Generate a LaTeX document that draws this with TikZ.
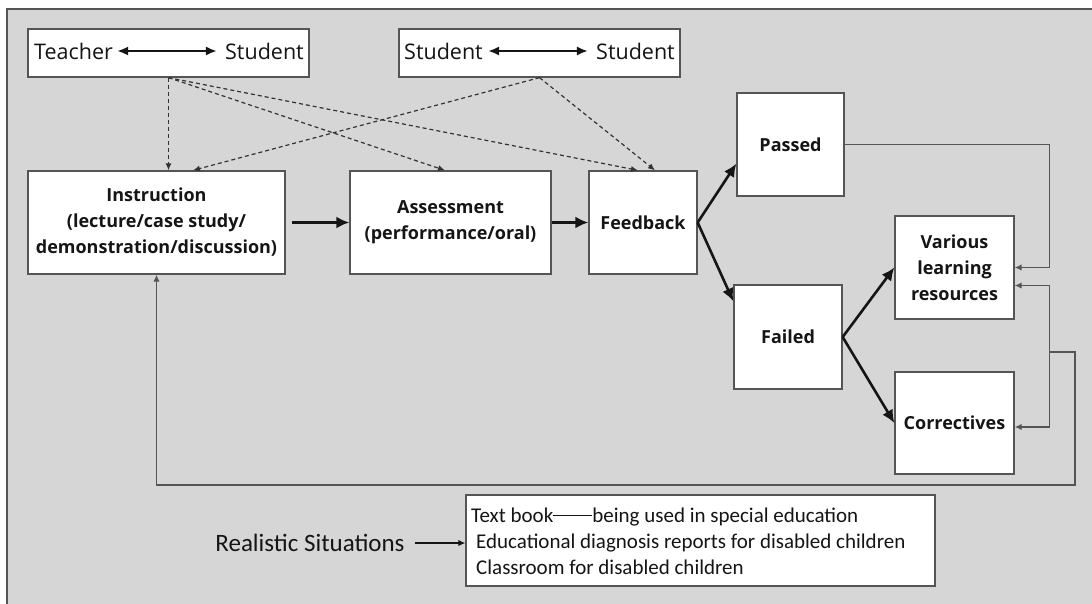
\documentclass[tikz,border=0pt]{standalone}
\usepackage{fontspec}
\setmainfont{Open Sans}
\newfontfamily\narrowfont{Carlito}
\usetikzlibrary{arrows.meta,calc}

\definecolor{panel}{HTML}{D6D6D6}
\definecolor{edge}{HTML}{555555}
\definecolor{ink}{HTML}{151515}
\definecolor{dashink}{HTML}{333333}

% a solid double dash, drawn as one rule
\newcommand{\longdash}{\rule[6.3pt]{39pt}{1.1pt}}

\tikzset{
  box/.style={draw=edge, line width=1.3pt, fill=white, inner sep=0pt,
    align=center, text=ink, font=\fontsize{18}{26}\selectfont\bfseries},
  pairtext/.style={inner sep=1pt, text=ink, font=\fontsize{21.5}{26}\selectfont},
  flow/.style={line width=2.6pt, draw=ink, -{Latex[length=13pt,width=12pt]}},
  pairarrow/.style={line width=2.3pt, draw=ink, {Latex[length=11pt,width=9pt]}-{Latex[length=11pt,width=9pt]}},
  link/.style={line width=1.4pt, draw=edge, -{Latex[length=7pt,width=6.5pt]}},
  plain/.style={line width=1.4pt, draw=edge},
  hint/.style={line width=1.2pt, draw=dashink, dash pattern=on 4pt off 3pt,
    -{Latex[length=7pt,width=6pt]}}
}

\begin{document}
\begin{tikzpicture}[x=1pt,y=-1pt]
\useasboundingbox (0,0) rectangle (1092,603);

% grey panel with its top and left rule
\fill[panel] (7,9) rectangle (1100,610);
\draw[edge, line width=1.8pt] (1100,9) -- (7,9) -- (7,610);

% interaction boxes
\node[box, minimum width=281pt, minimum height=48pt] (ts) at (168.5,53) {};
\node[pairtext, anchor=west] (tsA) at (33,51) {Teacher};
\node[pairtext, anchor=east] (tsB) at (305,51) {Student};
\draw[pairarrow] ([xshift=3pt]tsA.east) -- ([xshift=-7pt]tsB.west);

\node[box, minimum width=281pt, minimum height=48pt] (ss) at (539.5,53) {};
\node[pairtext, anchor=west] (ssA) at (403,51) {Student};
\node[pairtext, anchor=east] (ssB) at (676,51) {Student};
\draw[pairarrow] ([xshift=4pt]ssA.east) -- ([xshift=-7pt]ssB.west);

% main process
\node[box, minimum width=257pt, minimum height=103pt] (instr) at (156.5,222.5)
  {Instruction\\(lecture/case study/\\demonstration/discussion)};
\node[box, minimum width=201pt, minimum height=103pt] (assess) at (450.5,222.5)
  {Assessment\\(performance/oral)};
\node[box, minimum width=108pt, minimum height=103pt] (feed) at (643,222.5) {Feedback};
\node[box, minimum width=107pt, minimum height=103pt] (passed) at (790.5,144.5) {Passed};
\node[box, minimum width=108pt, minimum height=104pt] (failed) at (788,337) {Failed};
\node[box, minimum width=119pt, minimum height=103pt] (various) at (954.5,267.5)
  {Various\\learning\\resources};
\node[box, minimum width=119pt, minimum height=102pt] (correct) at (954.5,423) {Correctives};

% realistic situations
\node[box, minimum width=469pt, minimum height=91pt] (list) at (700.5,540.5) {};
\node[anchor=west, align=left, inner sep=0pt, text=ink,
      font=\narrowfont\fontsize{21}{26}\selectfont] (listtext) at (471,541)
  {Text book\longdash being used in special education\\
   \hspace*{5pt}Educational diagnosis reports for disabled children\\
   \hspace*{5pt}Classroom for disabled children};
\node[inner sep=0pt, text=ink, font=\narrowfont\fontsize{25}{30}\selectfont]
  (real) at (310,543) {Realistic Situations};
\draw[link, draw=ink] ([xshift=10pt]real.east) -- (real.east -| list.west);

% dashed influences
\draw[hint] (ts.south) -- (ts.south |- instr.north);
\draw[hint] (ts.south) -- ($(assess.north)+(-5.5,0)$);
\draw[hint] (ts.south) -- ($(feed.north)+(-5,0)$);
\draw[hint] (ss.south) -- ($(instr.north)+(36.5,0)$);
\draw[hint] (ss.south) -- ($(feed.north)+(12,0)$);

% thick flow arrows
\draw[flow] ([xshift=6pt]instr.east) -- (assess.west);
\draw[flow] (assess.east) -- (feed.west);
\draw[flow] (feed.east) -- ($(passed.south west)+(0,-33)$);
\draw[flow] (feed.east) -- ($(failed.north west)+(0,17)$);
\draw[flow] (failed.east) -- (various.west);
\draw[flow] (failed.east) -- (correct.west);

% return paths
\draw[link] (passed.east) -| ($(various.east)+(35,0)$) -- (various.east);
\coordinate (vr) at ($(various.east)+(35,18)$);
\coordinate (cr) at ($(correct.east)+(35,4)$);
\coordinate (tap) at (1049,352);
\coordinate (far) at (1075,485);
\draw[plain] (vr) -- (cr);
\draw[link] (vr) -- (vr -| various.east);
\draw[link] (cr) -- (cr -| correct.east);
\draw[link] (tap) -| (far) -| (instr.south);
\end{tikzpicture}
\end{document}
